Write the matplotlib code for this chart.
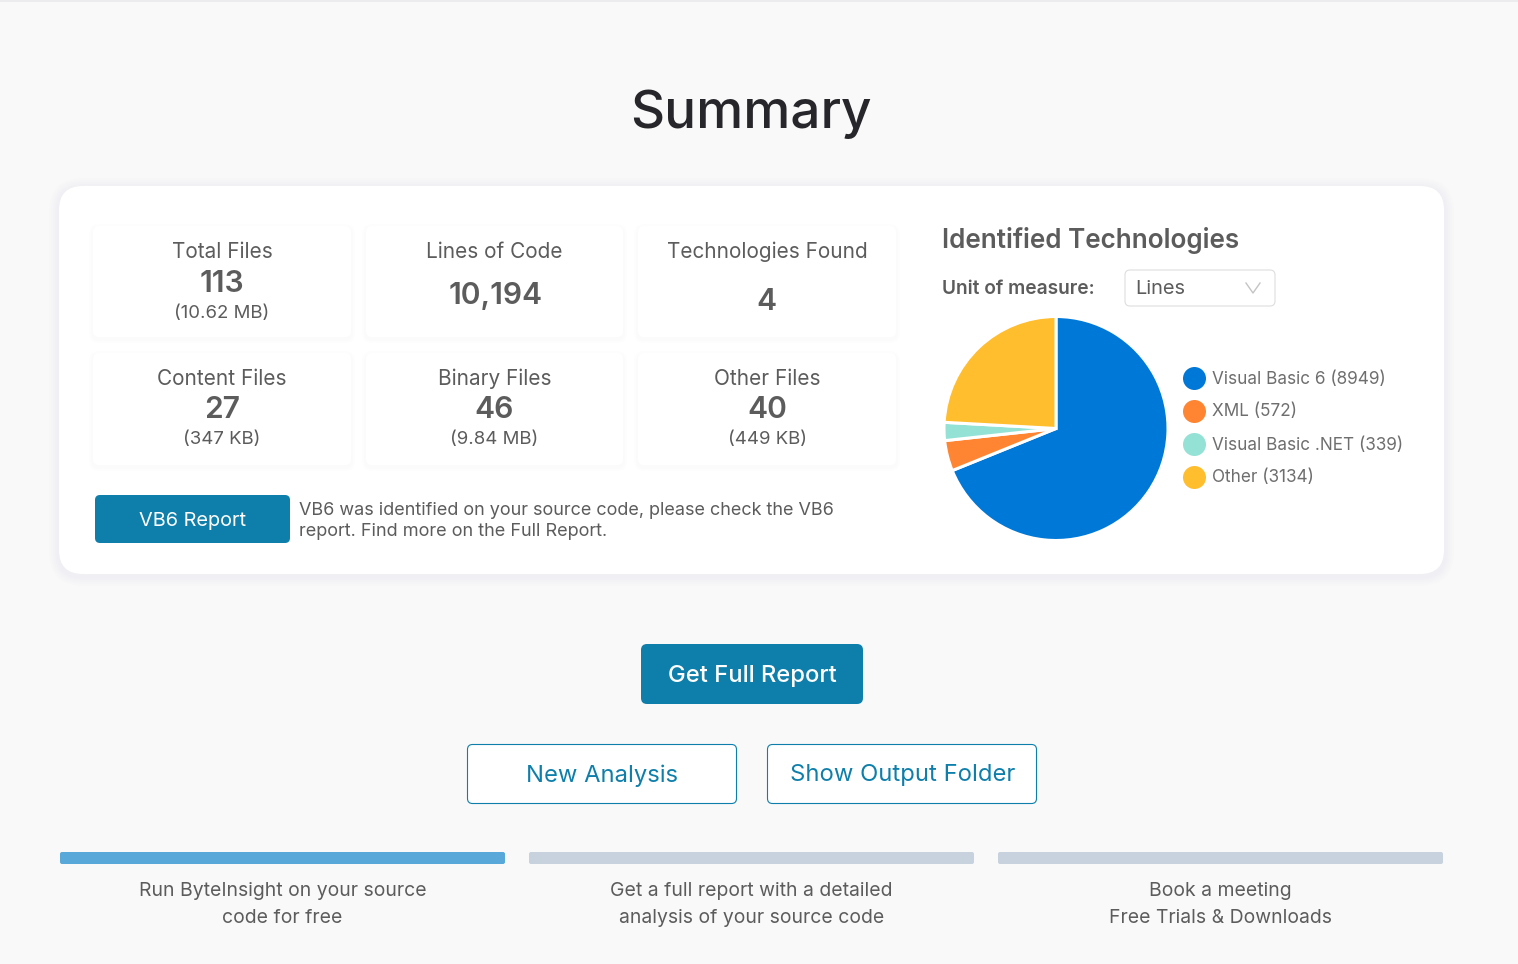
"""
Summary dashboard page with the identified technologies pie
"""

import matplotlib
matplotlib.use("Agg")
import matplotlib.pyplot as plt
from matplotlib.patches import FancyBboxPatch, Rectangle, Circle

plt.rcParams["font.family"] = ["Inter", "DejaVu Sans"]

W, H = 1518, 964

stat_titles = ["Total Files", "Lines of Code", "Technologies Found", "Content Files", "Binary Files", "Other Files"]
stat_values = ["113", "10,194", "4", "27", "46", "40"]
stat_sizes = ["(10.62 MB)", "", "", "(347 KB)", "(9.84 MB)", "(449 KB)"]

tech_names = ["Visual Basic 6", "XML", "Visual Basic .NET", "Other"]
tech_lines = [8949, 572, 339, 3134]
tech_colors = ["#0078d7", "#ff8533", "#94e2d6", "#ffbe2e"]

steps = [
    "Run ByteInsight on your source\ncode for free",
    "Get a full report with a detailed\nanalysis of your source code",
    "Book a meeting\nFree Trials & Downloads",
]
step_colors = ["#58a9da", "#c8d2df", "#c8d2df"]

TEAL = "#0e7fab"
GREY = "#5c5c5c"
px = 0.72  # font px to pt at dpi 100

fig = plt.figure(figsize=(W / 100, H / 100), dpi=100, facecolor="#f9f9f9")
ax = fig.add_axes([0, 0, 1, 1])
ax.set_xlim(0, W)
ax.set_ylim(H, 0)
ax.axis("off")


def box(x0, y0, x1, y1, r, fc, ec="none", lw=0, z=2, alpha=None):
    p = FancyBboxPatch((x0 + r, y0 + r), x1 - x0 - 2 * r, y1 - y0 - 2 * r,
                       boxstyle="round,pad=%g,rounding_size=%g" % (r, r),
                       fc=fc, ec=ec, lw=lw, zorder=z, alpha=alpha)
    ax.add_patch(p)


def label(x, y, s, size, color=GREY, ha="center", weight="normal", z=5, **kw):
    ax.text(x, y, s, fontsize=size * px, color=color, ha=ha, va="center", fontweight=weight, zorder=z, **kw)


def shadow(x0, y0, x1, y1, r, spread, alpha):
    for i in range(spread, 0, -2):
        box(x0 - i, y0 - i + 2, x1 + i, y1 + i + 2, r + i, "#8a94a6", z=1.5, alpha=alpha)


ax.add_patch(Rectangle((0, 0), W, 2, fc="#ececee", ec="none"))
label(751, 114, "Summary", 53, color="#26262b", weight="medium")

# main card
shadow(59, 186, 1444, 574, 24, 10, 0.011)
box(59, 186, 1444, 574, 24, "white")

# stat tiles
col_x = [(93, 351), (366, 623), (638, 896)]
row_y = [(226, 337), (353, 465)]
for i in range(6):
    x0, x1 = col_x[i % 3]
    y0, y1 = row_y[i // 3]
    cx = (x0 + x1) / 2
    for k in (4, 2):
        box(x0 - k, y0 - k + 2, x1 + k, y1 + k + 2, 6 + k, "#8a94a6", z=2.1, alpha=0.012)
    box(x0, y0, x1, y1, 6, "white", z=2.2)
    label(cx, y0 + 26, stat_titles[i], 20.8)
    if stat_sizes[i]:
        label(cx, y0 + 57.5, stat_values[i], 30, weight="semibold")
        label(cx, y0 + 87, stat_sizes[i], 18.6)
    elif i == 1:
        label(cx + 1, y0 + 69.5, stat_values[i], 30, weight="semibold")
    else:
        label(cx - 1, y0 + 75.5, stat_values[i], 30, weight="semibold")

# VB6 notice
box(95, 495, 290, 543, 5, TEAL)
label(192.5, 520.5, "VB6 Report", 19.9, color="white")
label(299, 510.5, "VB6 was identified on your source code, please check the VB6", 18, ha="left")
label(299, 531.5, "report. Find more on the Full Report.", 18.1, ha="left")

# technologies panel
label(942, 241, "Identified Technologies", 26.1, ha="left", weight="semibold")
label(942, 288.5, "Unit of measure:", 19.1, ha="left", weight="semibold")
box(1125, 270, 1275, 306, 5, "white", ec="#dedede", lw=0.8)
label(1135.5, 289, "Lines", 20, ha="left")
ax.plot([1246, 1253, 1260], [283, 293, 283], color="#c4c4c4", lw=1, zorder=5)

cx, cy, rad = 1056, 428.5, 112
pie_ax = fig.add_axes([(cx - rad) / W, 1 - (cy + rad) / H, 2 * rad / W, 2 * rad / H])
pie_ax.pie(tech_lines, colors=tech_colors, startangle=90, counterclock=False, radius=1,
           wedgeprops={"edgecolor": "white", "linewidth": 2.2})
pie_ax.set_xlim(-1, 1)
pie_ax.set_ylim(-1, 1)
pie_ax.set_zorder(6)

legend_y = [379, 412, 445, 478]
for name, n, color, y in zip(tech_names, tech_lines, tech_colors, legend_y):
    ax.add_patch(Circle((1194.5, y - 0.5), 11.5, fc=color, ec="none", zorder=5))
    label(1212.5, y, "%s (%d)" % (name, n), 17.15, color="#6e6e6e", ha="left")

# action buttons
box(641, 644, 863, 704, 6, TEAL)
label(752, 676, "Get Full Report", 23.8, color="white", weight="medium")
box(467.5, 744.5, 736.5, 803.5, 5, "white", ec=TEAL, lw=0.8)
label(602, 775.5, "New Analysis", 23.8, color=TEAL)
box(767.5, 744.5, 1036.5, 803.5, 5, "white", ec=TEAL, lw=0.8)
label(903, 775.5, "Show Output Folder", 23.8, color=TEAL)

# progress steps
step_x = [(60, 505), (529, 974), (998, 1443)]
for (x0, x1), text, color in zip(step_x, steps, step_colors):
    box(x0, 852, x1, 864, 2, color)
    first, second = text.split("\n")
    label((x0 + x1) / 2, 891, first, 19.4)
    label((x0 + x1) / 2, 918, second, 19.4)

fig.savefig("out.png", dpi=100, facecolor=fig.get_facecolor())
